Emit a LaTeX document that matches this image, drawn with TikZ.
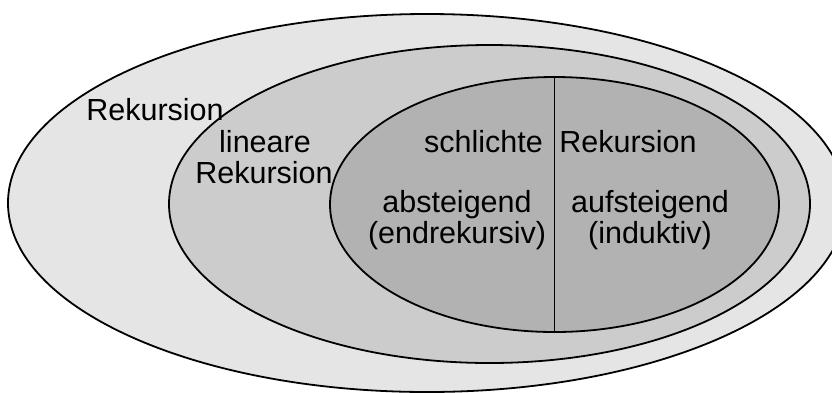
\documentclass[tikz,border=0pt]{standalone}
\usepackage{fontspec}
\setmainfont{Liberation Sans}
\usetikzlibrary{shapes.geometric}
\definecolor{outerfill}{gray}{0.90}
\definecolor{midfill}{gray}{0.80}
\definecolor{innerfill}{gray}{0.70}
\begin{document}
\begin{tikzpicture}[x=1pt,y=-1pt,
  set/.style={ellipse,draw=black,line width=1.8pt,inner sep=0pt},
  lbl/.style={anchor=base,inner sep=0pt,font=\fontsize{30.5}{31}\selectfont}]
\useasboundingbox (0,0) rectangle (832,392);
\clip (0,0) rectangle (832,392);
\node[set,fill=outerfill,minimum width=838pt,minimum height=378pt] (outer) at (427,203) {};
\node[set,fill=midfill,minimum width=641pt,minimum height=318pt] (mid) at (489.5,204) {};
\node[set,fill=innerfill,minimum width=449pt,minimum height=255pt] (inner) at (554.5,204.5) {};
\draw[line width=1.5pt] (inner.north) -- (inner.south);
\node[lbl] (rek) at (155,120) {Rekursion};
\node[lbl] (lin1) at (265,152) {lineare};
\node[lbl] (lin2) at (264,183) {Rekursion};
\node[lbl] (sch1) at (483.5,152) {schlichte};
\node[lbl] (sch2) at (628,152) {Rekursion};
\node[lbl] (ab1) at (457,212) {absteigend};
\node[lbl] (ab2) at (457,243) {(endrekursiv)};
\node[lbl] (auf1) at (650,212) {aufsteigend};
\node[lbl] (auf2) at (650,243) {(induktiv)};
\end{tikzpicture}
\end{document}
